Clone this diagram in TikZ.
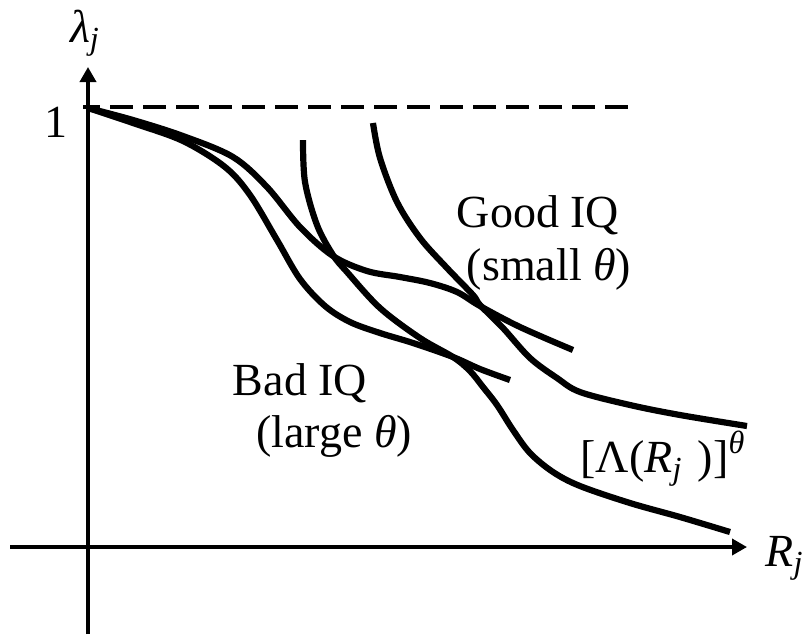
\documentclass[tikz,border=0pt]{standalone}
\usepackage{fontspec}
\setmainfont{Liberation Serif}
\usetikzlibrary{arrows.meta}
\newcommand{\itx}[1]{{\itshape #1}}
\begin{document}
\begin{tikzpicture}[x=0.5pt,y=-0.5pt,
  curve/.style={line width=3.1pt, line cap=butt, line join=round},
  axis/.style={line width=1.8pt,-{Triangle[length=7.5pt,width=8pt]}},
  lbl/.style={font=\fontsize{23}{27}\selectfont, inner sep=0pt, anchor=base}]
\useasboundingbox (0,0) rectangle (809,634);
% axes
\coordinate (ybot) at (88,634);
\coordinate (ytop) at (88,67);
\coordinate (xleft) at (10,547);
\coordinate (xright) at (747,547);
\draw[axis] (ybot) -- (ytop);
\draw[axis] (xleft) -- (xright);
% dashed level 1
\coordinate (d0) at (83,107);
\coordinate (d1) at (630,107);
\draw[line width=2.3pt, dash pattern=on 11.5pt off 5pt, dash phase=3pt] (d0) -- (d1);
% Good IQ S-curve
\draw[curve] plot[smooth, tension=0.55] coordinates {(88,108) (133,120) (183,136) (233,157) (267,187) (300,227) (333,256) (367,271) (400,277) (430,283) (457,292) (480,306) (520,327) (573,350)};
% Bad IQ S-curve
\draw[curve] plot[smooth, tension=0.55] coordinates {(88,108) (133,123) (183,141) (225,167) (250,195) (277,240) (300,279) (325,306) (350,322) (380,333) (413,343) (453,357) (480,369) (510,380)};
% left long curve
\draw[curve] plot[smooth, tension=0.55] coordinates {(303,140) (305,182) (317,225) (333,255) (347,272) (380,308) (420,338) (453,357) (470,371) (483,387) (497,405) (513,430) (530,453) (553,472) (580,486) (630,503) (680,517) (730,532)};
% right long curve
\draw[curve] plot[smooth, tension=0.55] coordinates {(373,123) (380,158) (397,202) (420,238) (447,268) (473,295) (480,305) (503,328) (530,358) (557,378) (580,392) (630,405) (680,415) (747,426)};
% labels
\node[lbl] (lam) at (85,42) {\itx{λ}\textsubscript{\itx{j}}};
\node[lbl] (one) at (56,137) {1};
\node[lbl, anchor=base west] (rj) at (765,566) {\itx{R}\textsubscript{\itx{j}}};
\node[lbl] (good1) at (538,227) {Good IQ};
\node[lbl] (good2) at (549,280) {(small \itx{θ})};
\node[lbl] (bad1) at (300,395) {Bad IQ};
\node[lbl] (bad2) at (334,447) {(large \itx{θ})};
\node[lbl] (lamlab) at (663,472) {[Λ(\itx{R}\textsubscript{\itx{j}}\,\,)]\textsuperscript{\itx{θ}}};
\end{tikzpicture}
\end{document}
